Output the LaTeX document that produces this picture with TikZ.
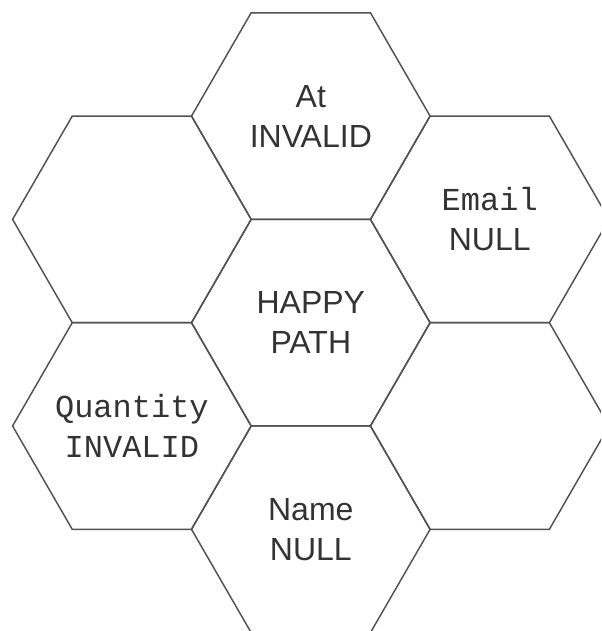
\documentclass[tikz,border=0pt]{standalone}
\usepackage{fontspec}
\usepackage{xcolor}
\usepackage{tikz}
\usetikzlibrary{shapes.geometric,positioning}
\setmainfont{Liberation Sans}
\newfontfamily\hexsans{Liberation Sans}
\newfontfamily\hexmono{Liberation Mono}

\begin{document}
\begin{tikzpicture}[
  x=0.75pt, y=0.75pt,
  every node/.style={font=\hexsans\fontsize{24}{30}\selectfont},
  hexcell/.style={
    regular polygon,
    regular polygon sides=6,
    draw=black!68,
    line width=1.1pt,
    minimum size=238.6*0.75pt,
    inner sep=0pt
  },
  hextext/.style={align=center, text=black!80, inner sep=0pt}
]

\useasboundingbox (0,0) rectangle (601,631);
\clip (0,0) rectangle (601,631);

\node[hexcell] (happy) at (310.8,308.3) {};

\node[hexcell] (atinvalid) at ([shift={(90:206.6)}]happy.center) {};
\node[hexcell] (emailnull) at ([shift={(30:206.6)}]happy.center) {};
\node[hexcell] (blankright) at ([shift={(-30:206.6)}]happy.center) {};
\node[hexcell] (namenull) at ([shift={(-90:206.6)}]happy.center) {};
\node[hexcell] (quantity) at ([shift={(-150:206.6)}]happy.center) {};
\node[hexcell] (blankleft) at ([shift={(150:206.6)}]happy.center) {};

% texts
\node[hextext] (happytext) at (happy.center) {HAPPY\\PATH};
\node[hextext] (attext) at (atinvalid.center) {At\\INVALID};
\node[hextext] (emailtext) at (emailnull.center) {\hexmono Email\\NULL};
\node[hextext] (nametext) at (namenull.center) {Name\\NULL};
\node[hextext] (quantitytext) at (quantity.center) {\hexmono Quantity\\\hexmono INVALID};

\end{tikzpicture}
\end{document}
